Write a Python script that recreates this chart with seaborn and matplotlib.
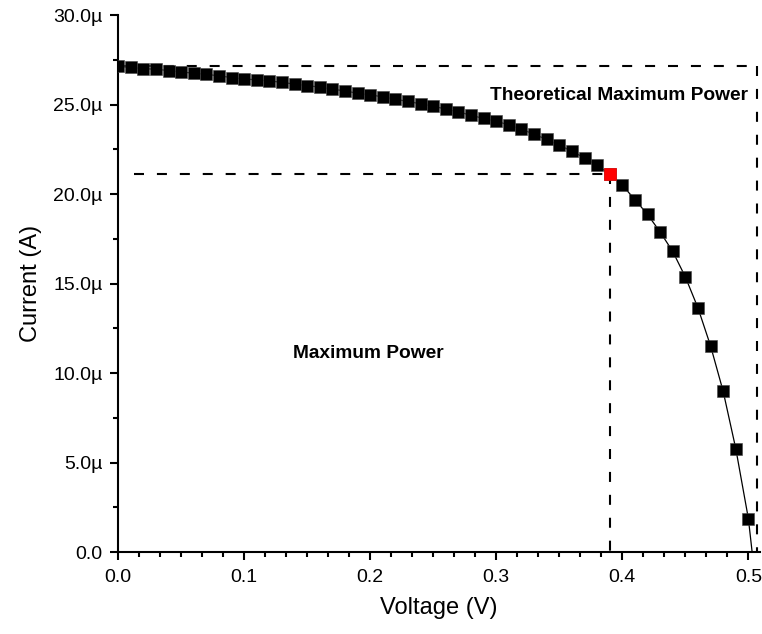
import matplotlib
matplotlib.use("Agg")
import matplotlib.pyplot as plt
import seaborn as sns
import pandas as pd
from matplotlib.ticker import AutoMinorLocator, FuncFormatter

# ---- data ----
voltage = [0.00, 0.01, 0.02, 0.03, 0.04, 0.05, 0.06, 0.07, 0.08, 0.09,
           0.10, 0.11, 0.12, 0.13, 0.14, 0.15, 0.16, 0.17, 0.18, 0.19,
           0.20, 0.21, 0.22, 0.23, 0.24, 0.25, 0.26, 0.27, 0.28, 0.29,
           0.30, 0.31, 0.32, 0.33, 0.34, 0.35, 0.36, 0.37, 0.38, 0.39,
           0.40, 0.41, 0.42, 0.43, 0.44, 0.45, 0.46, 0.47, 0.48, 0.49,
           0.50]
current_uA = [27.15, 27.08, 27.02, 26.98, 26.91, 26.83, 26.76, 26.70, 26.61, 26.52,
              26.44, 26.39, 26.33, 26.25, 26.15, 26.07, 25.98, 25.87, 25.77, 25.64,
              25.55, 25.44, 25.31, 25.18, 25.05, 24.92, 24.75, 24.60, 24.41, 24.23,
              24.08, 23.87, 23.63, 23.35, 23.06, 22.74, 22.40, 22.03, 21.62, 21.12,
              20.50, 19.70, 18.87, 17.89, 16.80, 15.38, 13.65, 11.53, 8.99, 5.79,
              1.88]
voc = 0.503            # open-circuit voltage where the fit line reaches zero
isc_uA = 27.15         # short-circuit current
theo_v = 0.507         # x of theoretical-maximum rectangle edge
mpp_v = 0.39           # maximum power point voltage
mpp_i_uA = 21.12       # maximum power point current
mpp_line_start = 0.013 # where the MPP horizontal drop line begins

x_ticks = [0.0, 0.1, 0.2, 0.3, 0.4, 0.5]
y_ticks_uA = [0, 5, 10, 15, 20, 25, 30]

# ---- styling ----
sns.set_style("ticks")
plt.rcParams['font.family'] = ['Liberation Sans', 'DejaVu Sans']
plt.rcParams['text.color'] = 'black'
plt.rcParams['axes.labelcolor'] = 'black'
plt.rcParams['xtick.color'] = 'black'
plt.rcParams['ytick.color'] = 'black'

fig = plt.figure(figsize=(7.62, 6.34), dpi=100)
ax = fig.add_axes([0.155, 0.129, 0.842, 0.847])

df = pd.DataFrame({"V": voltage, "I": [c * 1e-6 for c in current_uA]})
line_df = pd.DataFrame({"V": voltage + [voc], "I": [c * 1e-6 for c in current_uA] + [0.0]})

sns.lineplot(data=line_df, x="V", y="I", ax=ax, color="black", lw=0.9,
             sort=False, estimator=None, zorder=2)
sns.scatterplot(data=df, x="V", y="I", ax=ax, marker="s", s=78, color="black",
                edgecolor="#444444", linewidth=0.4, zorder=3)
mpp_df = df[df["V"].round(2) == mpp_v]
sns.scatterplot(data=mpp_df, x="V", y="I", ax=ax, marker="s", s=78, color="#ff0000",
                edgecolor="#ff0000", linewidth=0.4, zorder=4)

dash = (0, (4.8, 6.2))
# theoretical max power rectangle
ax.plot([0, theo_v], [isc_uA * 1e-6, isc_uA * 1e-6], color="black", lw=1.5, ls=dash, zorder=1)
ax.plot([theo_v, theo_v], [isc_uA * 1e-6, 0], color="black", lw=1.5, ls=dash, zorder=1)
# maximum power rectangle
ax.plot([mpp_line_start, mpp_v], [mpp_i_uA * 1e-6, mpp_i_uA * 1e-6], color="black", lw=1.5, ls=dash, zorder=1)
ax.plot([mpp_v, mpp_v], [mpp_i_uA * 1e-6, 0], color="black", lw=1.5, ls=dash, zorder=1)

ax.text(0.295, 25.5e-6, "Theoretical Maximum Power", fontsize=13.8, fontweight="bold",
        va="center", ha="left", color="black")
ax.text(0.139, 11.1e-6, "Maximum Power", fontsize=13.8, fontweight="bold",
        va="center", ha="left", color="black")

ax.set_xlim(0, 0.509)
ax.set_ylim(0, 30e-6)
ax.set_xticks(x_ticks)
ax.set_yticks([v * 1e-6 for v in y_ticks_uA])
ax.xaxis.set_minor_locator(AutoMinorLocator(6))
ax.yaxis.set_minor_locator(AutoMinorLocator(2))
ax.xaxis.set_major_formatter(FuncFormatter(lambda v, p: f"{v:.1f}"))
ax.yaxis.set_major_formatter(FuncFormatter(lambda v, p: "0.0" if abs(v) < 1e-12 else f"{v*1e6:.1f}\u00b5"))

for s in ["top", "right"]:
    ax.spines[s].set_visible(False)
for s in ["left", "bottom"]:
    ax.spines[s].set_linewidth(1.5)
    ax.spines[s].set_color("black")
ax.tick_params(which="major", direction="out", length=6, width=1.5, labelsize=14,
               color="black", labelcolor="black")
ax.tick_params(axis="x", which="major", pad=6)
ax.tick_params(axis="y", which="major", pad=5)
ax.tick_params(which="minor", direction="out", length=3.5, width=1.5, color="black")

ax.set_xlabel("Voltage (V)", fontsize=17, labelpad=8)
ax.set_ylabel("Current (A)", fontsize=17, labelpad=8)

fig.savefig("out.png", dpi=100)
